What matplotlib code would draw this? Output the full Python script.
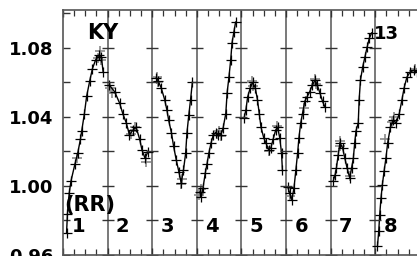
import matplotlib
matplotlib.use("Agg")
import matplotlib.pyplot as plt
from matplotlib.ticker import MultipleLocator

# phase within each cycle (0..1) and relative value
ph1 = [0.08, 0.10, 0.14, 0.18, 0.27, 0.33, 0.39, 0.42, 0.48, 0.53, 0.60, 0.66, 0.73, 0.81, 0.86, 0.90]
rv1 = [0.973, 0.984, 0.996, 1.003, 1.013, 1.019, 1.027, 1.032, 1.042, 1.052, 1.061, 1.068, 1.073, 1.076, 1.075, 1.066]

ph2 = [0.04, 0.16, 0.27, 0.34, 0.42, 0.49, 0.57, 0.64, 0.72, 0.77, 0.84, 0.90]
rv2 = [1.0585, 1.0545, 1.048, 1.042, 1.0365, 1.0296, 1.0325, 1.034, 1.027, 1.021, 1.016, 1.0197]

ph3 = [0.09, 0.13, 0.20, 0.28, 0.33, 0.37, 0.43, 0.48, 0.54, 0.60, 0.65, 0.70, 0.75, 0.78, 0.82, 0.86, 0.90]
rv3 = [1.0626, 1.061, 1.057, 1.050, 1.044, 1.038, 1.031, 1.023, 1.015, 1.008, 1.002, 1.009, 1.019, 1.031, 1.041, 1.050, 1.060]

ph4 = [0.07, 0.10, 0.14, 0.19, 0.23, 0.27, 0.32, 0.37, 0.42, 0.48, 0.54, 0.59, 0.65, 0.68, 0.72, 0.76, 0.79, 0.83, 0.87]
rv4 = [0.9965, 0.9936, 0.999, 1.0075, 1.013, 1.019, 1.025, 1.0296, 1.031, 1.0296, 1.0296, 1.0336, 1.042, 1.054, 1.063, 1.073, 1.083, 1.089, 1.095]

ph5 = [0.06, 0.10, 0.14, 0.20, 0.25, 0.31, 0.36, 0.40, 0.44, 0.50, 0.55, 0.61, 0.66, 0.71, 0.77, 0.81, 0.86, 0.90, 0.92]
rv5 = [1.0394, 1.044, 1.0516, 1.057, 1.060, 1.057, 1.050, 1.042, 1.034, 1.028, 1.025, 1.021, 1.022, 1.027, 1.0325, 1.034, 1.028, 1.019, 1.009]

ph6 = [0.04, 0.08, 0.13, 0.18, 0.22, 0.26, 0.29, 0.33, 0.37, 0.42, 0.47, 0.53, 0.59, 0.65, 0.70, 0.76, 0.82, 0.87]
rv6 = [0.9994, 0.996, 0.992, 0.999, 1.009, 1.019, 1.028, 1.0365, 1.042, 1.049, 1.0516, 1.0545, 1.0585, 1.0614, 1.0585, 1.054, 1.049, 1.046]

ph7 = [0.06, 0.10, 0.13, 0.17, 0.21, 0.27, 0.32, 0.37, 0.43, 0.47, 0.51, 0.54, 0.57, 0.62, 0.64, 0.67, 0.72, 0.77, 0.82, 0.87, 0.92]
rv7 = [1.003, 1.0064, 1.0104, 1.018, 1.025, 1.022, 1.016, 1.0104, 1.0046, 1.0104, 1.016, 1.025, 1.032, 1.0365, 1.050, 1.0614, 1.069, 1.0748, 1.0806, 1.0858, 1.0887]

ph8 = [0.05, 0.08, 0.10, 0.13, 0.16, 0.20, 0.24, 0.28, 0.34, 0.40, 0.47, 0.54, 0.60, 0.65, 0.71, 0.78, 0.86, 0.94]
rv8 = [0.965, 0.974, 0.983, 0.993, 1.0006, 1.0087, 1.016, 1.025, 1.034, 1.038, 1.0365, 1.042, 1.050, 1.057, 1.063, 1.066, 1.067, 1.066]

# second (grey) set of points, clustered near the extrema
gx = [0.79, 0.83, 0.85, 0.31, 1.06, 1.10, 1.52, 1.62, 1.86, 2.10, 2.14, 2.64, 2.66,
      3.06, 3.09, 3.45, 3.50, 3.55, 4.24, 4.27, 4.63, 4.80, 5.10, 5.40, 5.66, 5.68,
      6.20, 6.22, 6.44, 7.22, 7.38, 7.42, 7.90]
gy = [1.074, 1.078, 1.073, 1.016, 1.057, 1.054, 1.030, 1.034, 1.014, 1.063, 1.060, 1.001, 1.004,
      0.995, 0.998, 1.030, 1.032, 1.029, 1.061, 1.058, 1.020, 1.035, 0.994, 1.045, 1.062, 1.059,
      1.026, 1.023, 1.006, 1.027, 1.037, 1.040, 1.068]

phases = [ph1, ph2, ph3, ph4, ph5, ph6, ph7, ph8]
values = [rv1, rv2, rv3, rv4, rv5, rv6, rv7, rv8]
cycle_labels = ['1', '2', '3', '4', '5', '6', '7', '8']

fig = plt.figure(figsize=(4.17, 2.56), dpi=100)
ax = fig.add_axes([63 / 417, 1 / 256, 8 * 44.6 / 417, 245 / 256])
ax.set_xlim(0, 8)
ax.set_ylim(0.96, 1.102)

ax.plot(gx, gy, ls='none', marker='+', ms=7, mew=1.2, color='#8a8a8a', zorder=1)

for i in range(8):
    xs = [i + p for p in phases[i]]
    ax.plot(xs, values[i], color='black', lw=1.0, marker='+', ms=6.5, mew=0.9, zorder=2)
    ax.text(i + 0.34, 0.9765, cycle_labels[i], fontsize=14, fontweight='bold',
            ha='center', va='center')
    if i > 0:
        ax.axvline(i, color='#6e6e6e', lw=1.3, zorder=0)
        # little cross ticks on each divider
        ax.plot([i] * 7, [0.96, 0.98, 1.00, 1.02, 1.04, 1.06, 1.08], ls='none',
                marker='_', ms=8, mew=1.0, color='#333333')

ax.text(0.886, 1.0887, 'KY', fontsize=15, fontweight='bold', ha='center', va='center')
ax.text(7.26, 1.088, '13', fontsize=13, fontweight='bold', ha='center', va='center')
ax.text(0.6, 0.989, '(RR)', fontsize=15, fontweight='bold', ha='center', va='center')

ax.yaxis.set_minor_locator(MultipleLocator(0.02))
ax.set_yticks([0.96, 1.00, 1.04, 1.08])
ax.set_yticklabels(['0.96', '1.00', '1.04', '1.08'])
ax.xaxis.set_major_locator(MultipleLocator(1))
ax.xaxis.set_minor_locator(MultipleLocator(0.25))
ax.tick_params(axis='x', which='both', direction='in', top=True, bottom=True,
               labelbottom=False, color='#333333')
ax.tick_params(axis='x', which='major', length=5, width=1.0)
ax.tick_params(axis='x', which='minor', length=4, width=0.9)
ax.tick_params(axis='y', which='both', direction='in', right=False, color='#333333')
ax.tick_params(axis='y', which='major', length=5, width=1.0, pad=7, labelsize=13)
ax.tick_params(axis='y', which='minor', length=5, width=1.0)
for lab in ax.get_yticklabels():
    lab.set_fontweight('bold')
for s in ax.spines.values():
    s.set_color('#555555')
    s.set_linewidth(1.2)

fig.savefig('out.png', dpi=100)
